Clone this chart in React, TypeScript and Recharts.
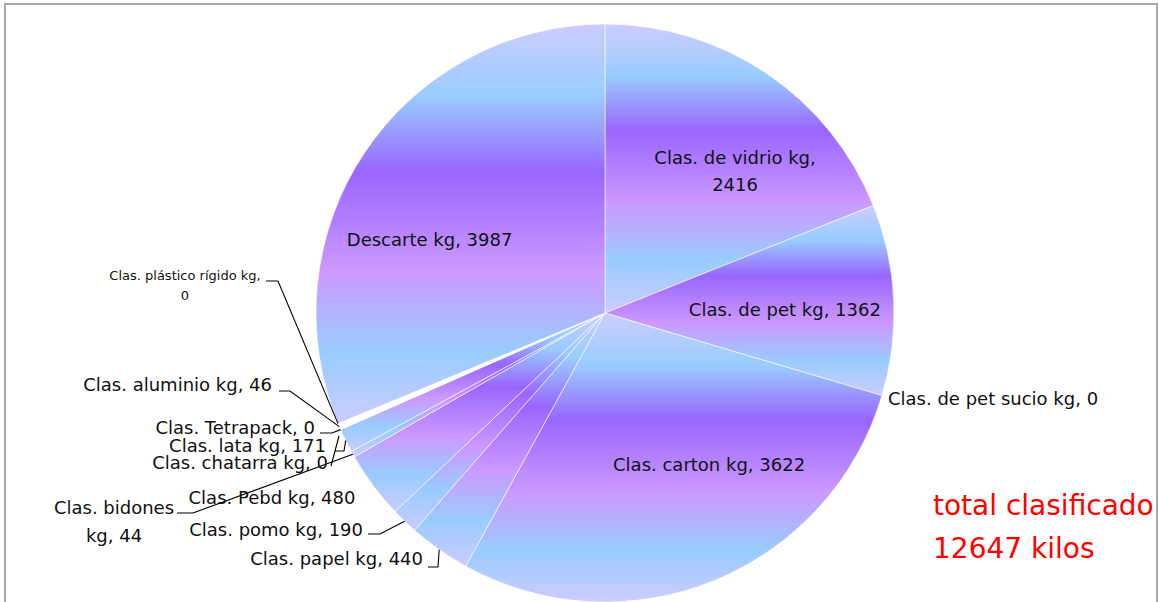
import React from 'react';
import { PieChart, Pie, Cell } from 'recharts';

// categories and kilos, clockwise from 12 o'clock
const categories = [
  'Clas. de vidrio kg',
  'Clas. de pet kg',
  'Clas. de pet sucio kg',
  'Clas. carton kg',
  'Clas. papel kg',
  'Clas. pomo kg',
  'Clas. Pebd kg',
  'Clas. bidones kg',
  'Clas. chatarra kg',
  'Clas. lata kg',
  'Clas. Tetrapack',
  'Clas. aluminio kg',
  'Clas. plástico rígido kg',
  'Descarte kg',
];
const kilos = [2416, 1362, 0, 3622, 440, 190, 480, 44, 0, 171, 0, 46, 0, 3987];
const totalLines = ['total clasificado', '12647 kilos'];

const data = categories.map((name, i) => ({ name, value: kilos[i] }));

const RADIAN = Math.PI / 180;
const FONT = '"DejaVu Sans", Verdana, sans-serif';

type Pt = [number, number];
interface LabelLayout {
  inside?: boolean;
  dx?: number; // nudge for inside labels
  dy?: number;
  tx?: number; // text position relative to center (outside labels)
  ty?: number;
  anchor?: 'start' | 'middle' | 'end';
  wrap?: number; // words on first line
  lineGap?: number;
  size?: number;
  line?: Pt[]; // start + elbow, relative to center
  end?: Pt; // override for the leader end
}

// label placement by slice index
const layout: Record<number, LabelLayout> = {
  0: { inside: true, dx: 28, dy: -5, wrap: 4, lineGap: 27 },
  1: { inside: true, dx: -2, dy: 5 },
  2: { tx: 283, ty: 85, anchor: 'start' },
  3: { inside: true, dx: 35, dy: -17 },
  4: { tx: -182, ty: 245, anchor: 'end', line: [[-177, 254], [-167, 254]] },
  5: { tx: -242, ty: 216, anchor: 'end', line: [[-237, 221], [-225, 221]] },
  6: { tx: -333, ty: 184, anchor: 'middle' },
  7: { tx: -491, ty: 194, anchor: 'middle', wrap: 2, lineGap: 28, line: [[-428, 200], [-412, 200]] },
  8: { tx: -277, ty: 149, anchor: 'end', line: [[-274, 153]], end: [-266, 123] },
  9: { tx: -279, ty: 132, anchor: 'end', line: [[-270, 138], [-261, 138]] },
  10: { tx: -290, ty: 114, anchor: 'end', line: [[-285, 120], [-273, 120]] },
  11: { tx: -333, ty: 71, anchor: 'end', line: [[-326, 78], [-315, 78]] },
  12: { tx: -420, ty: -38, anchor: 'middle', wrap: 4, lineGap: 20, size: 13, line: [[-339, -32], [-327, -32]] },
  13: { inside: true, dx: -24, dy: 28 },
};

const renderLabel = (props: any) => {
  const { cx, cy, midAngle, outerRadius, index, name, value } = props;
  const cfg = layout[index];
  if (!cfg) return null;
  const text = `${name}, ${value}`;
  const words = text.split(' ');
  const lines = cfg.wrap ? [words.slice(0, cfg.wrap).join(' '), words.slice(cfg.wrap).join(' ')] : [text];
  const size = cfg.size ?? 18;
  const gap = cfg.lineGap ?? 20;

  let x: number;
  let y: number;
  let anchor = cfg.anchor ?? 'middle';
  if (cfg.inside) {
    const r = outerRadius * 0.63;
    x = cx + r * Math.cos(-midAngle * RADIAN) + (cfg.dx ?? 0);
    y = cy + r * Math.sin(-midAngle * RADIAN) + (cfg.dy ?? 0);
    anchor = 'middle';
  } else {
    x = cx + (cfg.tx ?? 0);
    y = cy + (cfg.ty ?? 0);
  }

  let leader = null;
  if (cfg.line) {
    const edge: Pt = cfg.end
      ? [cx + cfg.end[0], cy + cfg.end[1]]
      : [cx + outerRadius * Math.cos(-midAngle * RADIAN), cy + outerRadius * Math.sin(-midAngle * RADIAN)];
    const pts = [...cfg.line.map(([px, py]) => [cx + px, cy + py]), edge];
    leader = (
      <polyline points={pts.map((p) => p.join(',')).join(' ')} fill="none" stroke="#000" strokeWidth={1.1} />
    );
  }

  return (
    <g key={`lbl-${index}`}>
      {leader}
      {lines.map((ln, k) => (
        <text
          key={k}
          x={x}
          y={y + k * gap}
          textAnchor={anchor}
          dominantBaseline="central"
          fontFamily={FONT}
          fontSize={size}
          fill="#111"
        >
          {ln}
        </text>
      ))}
    </g>
  );
};

export default function App() {
  return (
    <div style={{ position: 'relative', width: 1159, height: 602, overflow: 'hidden', background: '#fff' }}>
      <style>{'body{margin:0}'}</style>
      <div
        style={{
          position: 'absolute',
          left: 4,
          top: 3,
          width: 1150,
          height: 640,
          borderTop: '2px solid #a8a8a8',
          borderLeft: '2px solid #a8a8a8',
          borderRight: '2px solid #a8a8a8',
        }}
      />
      <div style={{ position: 'absolute', left: 0, top: 0 }}>
        <PieChart width={1159} height={602} margin={{ top: 0, right: 0, bottom: 0, left: 0 }}>
          <defs>
            <linearGradient id="sliceGrad" x1="0" y1="0" x2="0" y2="1">
              <stop offset="0%" stopColor="#ccccff" />
              <stop offset="18%" stopColor="#99ccff" />
              <stop offset="37%" stopColor="#9966ff" />
              <stop offset="62%" stopColor="#cc99ff" />
              <stop offset="82%" stopColor="#99ccff" />
              <stop offset="100%" stopColor="#ccccff" />
            </linearGradient>
          </defs>
          <Pie
            data={data}
            dataKey="value"
            nameKey="name"
            cx={605}
            cy={313}
            outerRadius={289}
            startAngle={90}
            endAngle={-270}
            stroke="#ffffff"
            strokeWidth={0.6}
            label={renderLabel}
            labelLine={false}
            isAnimationActive={false}
          >
            {data.map((d, i) => (
              <Cell key={d.name} fill={d.name === 'Clas. aluminio kg' ? '#ffffff' : 'url(#sliceGrad)'} />
            ))}
          </Pie>
        </PieChart>
      </div>
      <div
        style={{
          position: 'absolute',
          left: 933,
          top: 484,
          color: '#ff0000',
          fontFamily: FONT,
          fontSize: 28,
          lineHeight: '43px',
          whiteSpace: 'nowrap',
        }}
      >
        {totalLines.map((t) => (
          <div key={t}>{t}</div>
        ))}
      </div>
    </div>
  );
}
